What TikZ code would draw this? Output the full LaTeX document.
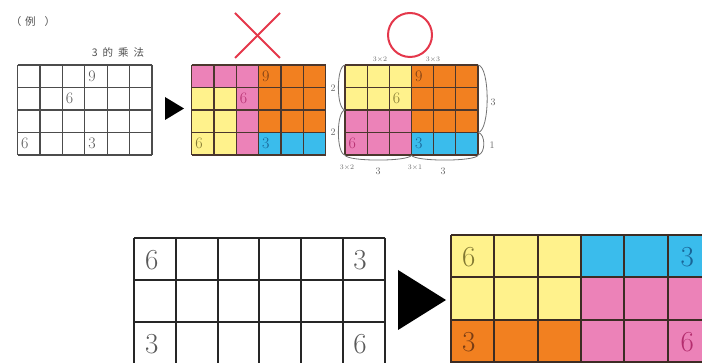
\documentclass[tikz,border=0pt]{standalone}
\usepackage{fontspec}
\newfontfamily\cjk{Noto Sans CJK SC}
\usetikzlibrary{positioning,calc}

\definecolor{cpink}{RGB}{236,130,184}
\definecolor{corange}{RGB}{242,128,32}
\definecolor{cyellow}{RGB}{255,242,140}
\definecolor{cblue}{RGB}{58,188,236}
\definecolor{npink}{RGB}{180,45,110}
\definecolor{norange}{RGB}{120,60,20}
\definecolor{nyellow}{RGB}{130,120,50}
\definecolor{nblue}{RGB}{25,100,150}
\definecolor{gline}{RGB}{75,55,45}
\definecolor{cmark}{RGB}{228,55,75}

\begin{document}
\begin{tikzpicture}[x=1pt, y=-1pt,
    gridline/.style={draw=gline, line width=1.2pt},
    greyline/.style={draw=black!70, line width=1.2pt},
    bigline/.style={draw=black!85, line width=2pt},
    num/.style={anchor=west, inner sep=0pt, font=\fontsize{16}{16}\selectfont, text=black!65},
    bignum/.style={anchor=west, inner sep=0pt, font=\fontsize{29}{29}\selectfont, text=black!65},
    tag/.style={inner sep=0pt, font=\fontsize{10}{10}\selectfont, text=black!60},
    small/.style={inner sep=0pt, font=\fontsize{7}{7}\selectfont, text=black!60},
    brace/.style={draw=black!55, line width=0.8pt},
    redmark/.style={draw=cmark, line width=2pt},
    heading/.style={inner sep=0pt, font=\cjk\fontsize{10.5}{10.5}\selectfont, text=black!70}]

    \useasboundingbox (0,0) rectangle (702,363);
    \clip (0,0) rectangle (702,363);

    % Heading
    \node [heading] (head) at (33,22) {（\hspace{4pt}例\hspace{9pt}）};
    \node [heading] (title) at (118,52) {3\hspace{5pt}的\hspace{5pt}乘\hspace{5pt}法};

    % Grid 1: empty table
    \begin{scope}[shift={(17.5,65)}, x=22.4pt, y=-22.5pt]
        \foreach \i in {0,...,6} \draw [greyline] (\i,0) -- (\i,4);
        \foreach \j in {0,...,4} \draw [greyline] (0,\j) -- (6,\j);
        \node [num] (aNine) at (3.15,0.5) {9};
        \node [num] (aSix) at (2.15,1.5) {6};
        \node [num] (aSixb) at (0.15,3.5) {6};
        \node [num] (aThree) at (3.15,3.5) {3};
    \end{scope}

    \fill (165,97) -- (184,108.5) -- (165,120) -- cycle;

    % Grid 2: wrong split
    \draw [redmark] (235,13) -- (280,58);
    \draw [redmark] (280,13) -- (235,58);
    \begin{scope}[shift={(191.7,65)}, x=22.33pt, y=-22.5pt]
        \fill [cpink] (0,0) rectangle (3,1);
        \fill [cpink] (2,1) rectangle (3,4);
        \fill [cyellow] (0,1) rectangle (2,4);
        \fill [corange] (3,0) rectangle (6,3);
        \fill [cblue] (3,3) rectangle (6,4);
        \foreach \i in {0,...,6} \draw [gridline] (\i,0) -- (\i,4);
        \foreach \j in {0,...,4} \draw [gridline] (0,\j) -- (6,\j);
        \node [num, text=norange] (bNine) at (3.15,0.5) {9};
        \node [num, text=npink] (bSix) at (2.15,1.5) {6};
        \node [num, text=nyellow] (bSixb) at (0.15,3.5) {6};
        \node [num, text=nblue] (bThree) at (3.15,3.5) {3};
    \end{scope}

    % Grid 3: right split
    \draw [redmark] (410,35) circle (22);
    \begin{scope}[shift={(345,65)}, x=22.17pt, y=-22.5pt]
        \fill [cyellow] (0,0) rectangle (3,2);
        \fill [cpink] (0,2) rectangle (3,4);
        \fill [corange] (3,0) rectangle (6,3);
        \fill [cblue] (3,3) rectangle (6,4);
        \foreach \i in {0,...,6} \draw [gridline] (\i,0) -- (\i,4);
        \foreach \j in {0,...,4} \draw [gridline] (0,\j) -- (6,\j);
        \node [num, text=norange] (cNine) at (3.15,0.5) {9};
        \node [num, text=nyellow] (cSix) at (2.15,1.5) {6};
        \node [num, text=npink] (cSixb) at (0.15,3.5) {6};
        \node [num, text=nblue] (cThree) at (3.15,3.5) {3};
        % braces
        \draw [brace] (0,0) .. controls (-0.4,0.05) and (-0.4,1.95) .. (0,2);
        \draw [brace] (0,2) .. controls (-0.4,2.05) and (-0.4,3.95) .. (0,4);
        \draw [brace] (6,0) .. controls (6.55,0.05) and (6.55,2.95) .. (6,3);
        \draw [brace] (6,3) .. controls (6.35,3.05) and (6.35,3.95) .. (6,4);
        \draw [brace] (0,4) .. controls (0.05,4.3) and (2.95,4.3) .. (3,4);
        \draw [brace] (3,4) .. controls (3.05,4.3) and (5.95,4.3) .. (6,4);
    \end{scope}
    \node [small] (tTop) at (380,60) {3$\times$2};
    \node [small] (tTopb) at (433,60) {3$\times$3};
    \node [tag] (tLeft) at (333,88) {2};
    \node [tag] (tLeftb) at (333,132) {2};
    \node [tag] (tRight) at (493,102) {3};
    \node [tag] (tRightb) at (492,145) {1};
    \node [small] (tBot) at (347,168) {3$\times$2};
    \node [tag] (tBotn) at (378,171) {3};
    \node [small] (tBotb) at (415,168) {3$\times$1};
    \node [tag] (tBotbn) at (443,171) {3};

    % Grid 4: exercise
    \begin{scope}[shift={(134,238)}, x=41.83pt, y=-42pt]
        \foreach \i in {0,...,6} \draw [bigline] (\i,0) -- (\i,3.5);
        \foreach \j in {0,...,3} \draw [bigline] (0,\j) -- (6,\j);
        \node [bignum] (dSix) at (0.26,0.52) {6};
        \node [bignum] (dThree) at (5.24,0.52) {3};
        \node [bignum] (dThreeb) at (0.26,2.52) {3};
        \node [bignum] (dSixb) at (5.24,2.52) {6};
    \end{scope}

    \fill (398,270) -- (446,300) -- (398,330) -- cycle;

    % Grid 5: answer
    \begin{scope}[shift={(451,235)}, x=43.3pt, y=-42.5pt]
        \fill [cyellow] (0,0) rectangle (3,2);
        \fill [cblue] (3,0) rectangle (7,1);
        \fill [cpink] (3,1) rectangle (7,3.5);
        \fill [corange] (0,2) rectangle (3,3.5);
        \foreach \i in {0,...,6} \draw [bigline, draw=gline!80!black] (\i,0) -- (\i,3.5);
        \foreach \j in {0,...,3} \draw [bigline, draw=gline!80!black] (0,\j) -- (7,\j);
        \node [bignum, text=nyellow] (eSix) at (0.25,0.52) {6};
        \node [bignum, text=nblue] (eThree) at (5.3,0.52) {3};
        \node [bignum, text=norange] (eThreeb) at (0.25,2.52) {3};
        \node [bignum, text=npink] (eSixb) at (5.3,2.52) {6};
    \end{scope}
\end{tikzpicture}
\end{document}
